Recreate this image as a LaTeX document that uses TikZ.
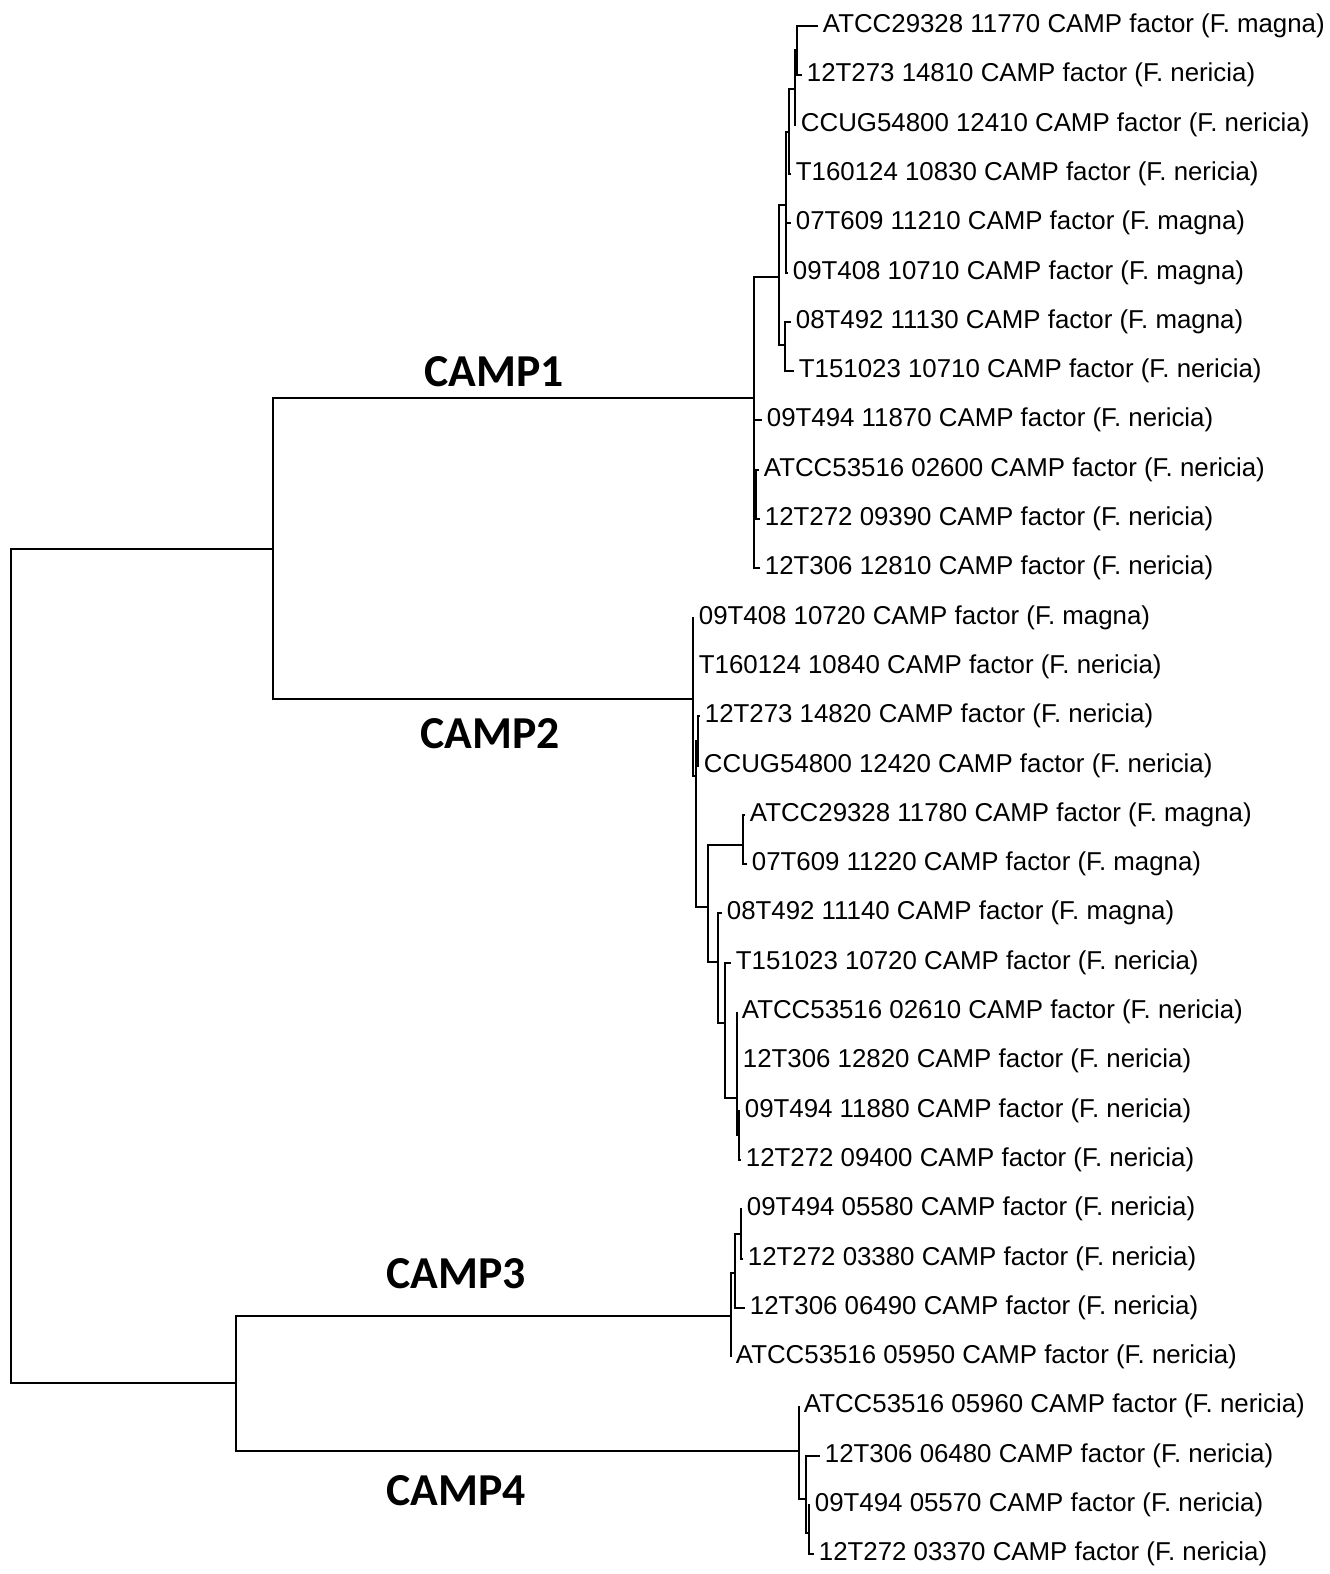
\documentclass[tikz,border=0pt]{standalone}
\usepackage{fontspec}
\setmainfont{Liberation Sans}
\newfontfamily\cladefont{Carlito}
\usetikzlibrary{calc}

\tikzset{
  branch/.style={line width=0.6pt, line cap=butt},
  leaf/.style={anchor=west, inner xsep=1.2pt, inner ysep=0pt, font=\fontsize{7.35}{8}\selectfont},
  clade/.style={font=\cladefont\bfseries\fontsize{13}{15}\selectfont}
}

\begin{document}
\begin{tikzpicture}[x=0.01cm, y=-0.01cm]
            \useasboundingbox (0,0) rectangle (1329,1574);
            % root and the two big splits
            \coordinate (root) at (11,966);
            \coordinate (n12) at (273,549);
            \coordinate (n34) at (236,1383);
            \coordinate (c1) at (754,398);
            \coordinate (c2) at (693,699);
            \coordinate (c3) at (731,1316);
            \coordinate (c4) at (799,1451);

            % CAMP1 inner nodes and tips
            \coordinate (c1a) at (779,277);
            \coordinate (c1b) at (786,205);
            \coordinate (c1c) at (789,132);
            \coordinate (c1d) at (795,89);
            \coordinate (c1e) at (797,50);
            \coordinate (c1f) at (785,345);
            \coordinate (c1g) at (756,493);
            \coordinate (t1) at (818,26);
            \coordinate (t2) at (802,75);
            \coordinate (t3) at (796,125);
            \coordinate (t4) at (791,174);
            \coordinate (t5) at (791,223);
            \coordinate (t6) at (788,273);
            \coordinate (t7) at (791,322);
            \coordinate (t8) at (794,371);
            \coordinate (t9) at (762,420);
            \coordinate (t10) at (759,470);
            \coordinate (t11) at (760,519);
            \coordinate (t12) at (760,568);

            % CAMP2 inner nodes and tips
            \coordinate (c2a) at (696,776);
            \coordinate (c2b) at (698,741);
            \coordinate (c2c) at (708,907);
            \coordinate (c2d) at (743,845);
            \coordinate (c2e) at (718,962);
            \coordinate (c2f) at (725,1023);
            \coordinate (c2g) at (737,1098);
            \coordinate (c2h) at (739,1135);
            \coordinate (t13) at (694,618);
            \coordinate (t14) at (694,667);
            \coordinate (t15) at (700,716);
            \coordinate (t16) at (699,766);
            \coordinate (t17) at (745,815);
            \coordinate (t18) at (747,864);
            \coordinate (t19) at (722,913);
            \coordinate (t20) at (731,963);
            \coordinate (t21) at (737,1012);
            \coordinate (t22) at (738,1061);
            \coordinate (t23) at (740,1111);
            \coordinate (t24) at (741,1160);

            % CAMP3 and CAMP4
            \coordinate (c3a) at (735,1273);
            \coordinate (c3b) at (741,1234);
            \coordinate (t25) at (742,1209);
            \coordinate (t26) at (743,1259);
            \coordinate (t27) at (745,1308);
            \coordinate (t28) at (731,1357);
            \coordinate (c4a) at (806,1499);
            \coordinate (c4b) at (809,1533);
            \coordinate (t29) at (799,1406);
            \coordinate (t30) at (820,1456);
            \coordinate (t31) at (810,1505);
            \coordinate (t32) at (814,1554);

            % branches
            \draw[branch] (root) |- (n12) (root) |- (n34);
            \draw[branch] (n12) |- (c1) (n12) |- (c2);
            \draw[branch] (n34) |- (c3) (n34) |- (c4);
            \draw[branch] (c1) |- (c1a) (c1) |- (t9) (c1) |- (c1g) (c1) |- (t12);
            \draw[branch] (c1a) |- (c1b) (c1a) |- (c1f);
            \draw[branch] (c1b) |- (c1c) (c1b) |- (t5) (c1b) |- (t6);
            \draw[branch] (c1c) |- (c1d) (c1c) |- (t4);
            \draw[branch] (c1d) |- (c1e) (c1d) |- (t3);
            \draw[branch] (c1e) |- (t1) (c1e) |- (t2);
            \draw[branch] (c1f) |- (t7) (c1f) |- (t8);
            \draw[branch] (c1g) |- (t10) (c1g) |- (t11);
            \draw[branch] (c2) |- (t13) (c2) |- (t14) (c2) |- (c2a);
            \draw[branch] (c2a) |- (c2b) (c2a) |- (c2c);
            \draw[branch] (c2b) |- (t15) (c2b) |- (t16);
            \draw[branch] (c2c) |- (c2d) (c2c) |- (c2e);
            \draw[branch] (c2d) |- (t17) (c2d) |- (t18);
            \draw[branch] (c2e) |- (t19) (c2e) |- (c2f);
            \draw[branch] (c2f) |- (t20) (c2f) |- (c2g);
            \draw[branch] (c2g) |- (t21) (c2g) |- (t22) (c2g) |- (c2h);
            \draw[branch] (c2h) |- (t23) (c2h) |- (t24);
            \draw[branch] (c3) |- (c3a) (c3) |- (t28);
            \draw[branch] (c3a) |- (c3b) (c3a) |- (t27);
            \draw[branch] (c3b) |- (t25) (c3b) |- (t26);
            \draw[branch] (c4) |- (t29) (c4) |- (c4a);
            \draw[branch] (c4a) |- (t30) (c4a) |- (c4b);
            \draw[branch] (c4b) |- (t31) (c4b) |- (t32);

            % leaf labels
            \node[leaf] (l1) at (t1) {ATCC29328 11770 CAMP factor (F. magna)};
            \node[leaf] (l2) at (t2) {12T273 14810 CAMP factor (F. nericia)};
            \node[leaf] (l3) at (t3) {CCUG54800 12410 CAMP factor (F. nericia)};
            \node[leaf] (l4) at (t4) {T160124 10830 CAMP factor (F. nericia)};
            \node[leaf] (l5) at (t5) {07T609 11210 CAMP factor (F. magna)};
            \node[leaf] (l6) at (t6) {09T408 10710 CAMP factor (F. magna)};
            \node[leaf] (l7) at (t7) {08T492 11130 CAMP factor (F. magna)};
            \node[leaf] (l8) at (t8) {T151023 10710 CAMP factor (F. nericia)};
            \node[leaf] (l9) at (t9) {09T494 11870 CAMP factor (F. nericia)};
            \node[leaf] (l10) at (t10) {ATCC53516 02600 CAMP factor (F. nericia)};
            \node[leaf] (l11) at (t11) {12T272 09390 CAMP factor (F. nericia)};
            \node[leaf] (l12) at (t12) {12T306 12810 CAMP factor (F. nericia)};
            \node[leaf] (l13) at (t13) {09T408 10720 CAMP factor (F. magna)};
            \node[leaf] (l14) at (t14) {T160124 10840 CAMP factor (F. nericia)};
            \node[leaf] (l15) at (t15) {12T273 14820 CAMP factor (F. nericia)};
            \node[leaf] (l16) at (t16) {CCUG54800 12420 CAMP factor (F. nericia)};
            \node[leaf] (l17) at (t17) {ATCC29328 11780 CAMP factor (F. magna)};
            \node[leaf] (l18) at (t18) {07T609 11220 CAMP factor (F. magna)};
            \node[leaf] (l19) at (t19) {08T492 11140 CAMP factor (F. magna)};
            \node[leaf] (l20) at (t20) {T151023 10720 CAMP factor (F. nericia)};
            \node[leaf] (l21) at (t21) {ATCC53516 02610 CAMP factor (F. nericia)};
            \node[leaf] (l22) at (t22) {12T306 12820 CAMP factor (F. nericia)};
            \node[leaf] (l23) at (t23) {09T494 11880 CAMP factor (F. nericia)};
            \node[leaf] (l24) at (t24) {12T272 09400 CAMP factor (F. nericia)};
            \node[leaf] (l25) at (t25) {09T494 05580 CAMP factor (F. nericia)};
            \node[leaf] (l26) at (t26) {12T272 03380 CAMP factor (F. nericia)};
            \node[leaf] (l27) at (t27) {12T306 06490 CAMP factor (F. nericia)};
            \node[leaf] (l28) at (t28) {ATCC53516 05950 CAMP factor (F. nericia)};
            \node[leaf] (l29) at (t29) {ATCC53516 05960 CAMP factor (F. nericia)};
            \node[leaf] (l30) at (t30) {12T306 06480 CAMP factor (F. nericia)};
            \node[leaf] (l31) at (t31) {09T494 05570 CAMP factor (F. nericia)};
            \node[leaf] (l32) at (t32) {12T272 03370 CAMP factor (F. nericia)};

            % clade names
            \node[clade] (camp1) at (494,372) {CAMP1};
            \node[clade] (camp2) at (490,734) {CAMP2};
            \node[clade] (camp3) at (456,1274) {CAMP3};
            \node[clade] (camp4) at (456,1491) {CAMP4};
        \end{tikzpicture}
\end{document}
